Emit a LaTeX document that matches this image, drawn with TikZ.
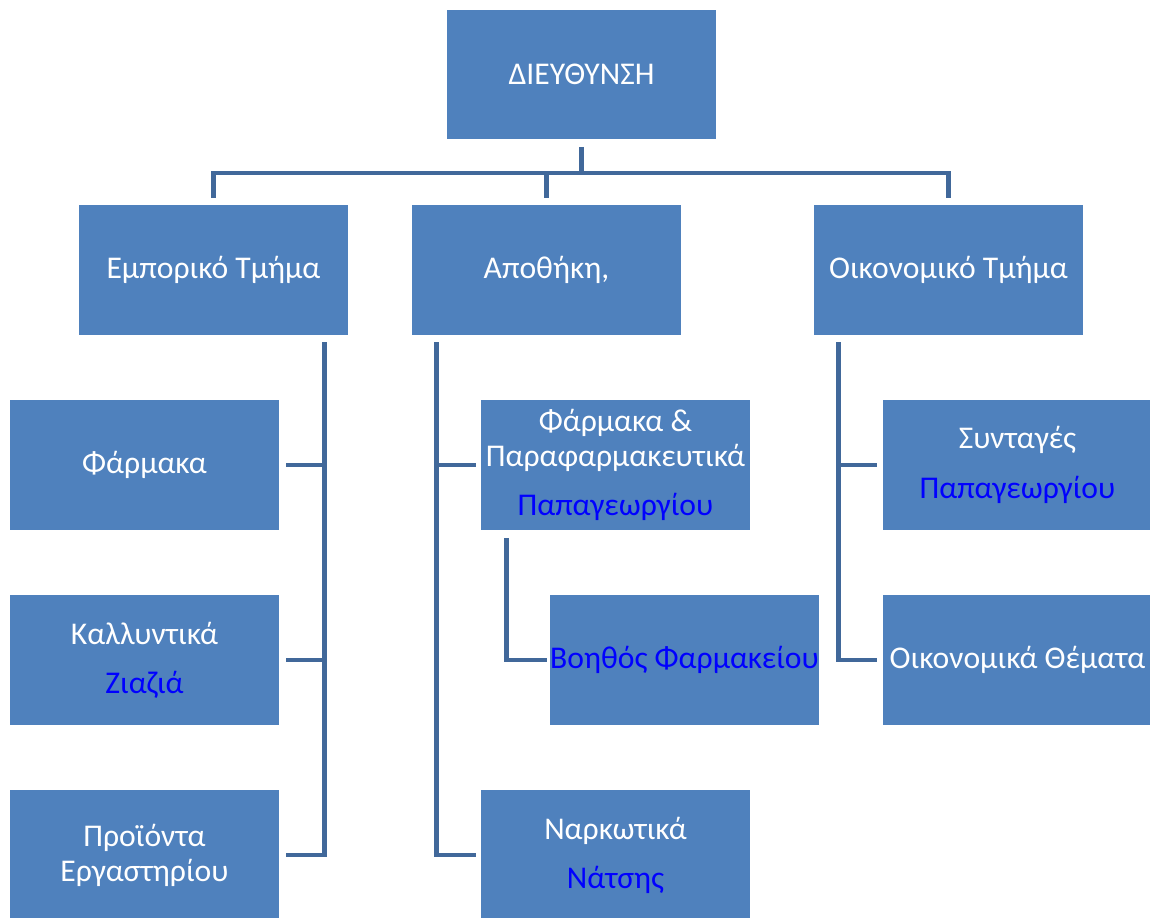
\documentclass[tikz,border=0pt]{standalone}
\usepackage{fontspec}
\setmainfont{Carlito}
\definecolor{boxblue}{HTML}{4F81BD}
\definecolor{lineblue}{HTML}{41689A}
\begin{document}
\begin{tikzpicture}[x=0.02cm, y=-0.02cm,
    unit/.style={fill=boxblue, text=white, minimum width=5.38cm, minimum height=2.6cm,
        inner sep=0pt, align=center, font=\fontsize{18}{20}\selectfont},
    link/.style={draw=lineblue, line width=2.6pt}]
        \useasboundingbox (0,0) rectangle (1150,917);

        %%%%%%%%%%%%%%%%%%%%%%%%%%%%%%%%%%%%%%%%%%%%
        % Head and departments
        %%%%%%%%%%%%%%%%%%%%%%%%%%%%%%%%%%%%%%%%%%%%
        \node [unit] (head) at (581.5,74.5) {ΔΙΕΥΘΥΝΣΗ};

        \node [unit] (sales) at (213.5,270) {Εμπορικό Τμήμα};
        \node [unit] (store) at (546.5,270) {Αποθήκη,};
        \node [unit] (finance) at (948.5,270) {Οικονομικό Τμήμα};

        %%%%%%%%%%%%%%%%%%%%%%%%%%%%%%%%%%%%%%%%%%%%
        % Sections
        %%%%%%%%%%%%%%%%%%%%%%%%%%%%%%%%%%%%%%%%%%%%

        % Sales
        \foreach \l [count=\y] in {Φάρμακα,
                {Καλλυντικά\\[8pt]\textcolor{blue}{Ζιαζιά}},
                {Προϊόντα\\Εργαστηρίου}}
            \node [unit] (sales-\y) at (144.5,270+195*\y) {\l};

        % Store
        \node [unit] (store-1) at (615.5,465)
            {Φάρμακα \&\\Παραφαρμακευτικά\\[8pt]\textcolor{blue}{Παπαγεωργίου}};
        \node [unit] (store-2) at (684.5,660) {\textcolor{blue}{Βοηθός Φαρμακείου}};
        \node [unit] (store-3) at (615.5,855) {Ναρκωτικά\\[8pt]\textcolor{blue}{Νάτσης}};

        % Finance
        \foreach \l [count=\y] in {{Συνταγές\\[8pt]\textcolor{blue}{Παπαγεωργίου}},
                {Οικονομικά Θέματα}}
            \node [unit] (finance-\y) at (1017.5,270+195*\y) {\l};

        %%%%%%%%%%%%%%%%%%%%%%%%%%%%%%%%%%%%%%%%%%%%
        % Connecting
        %%%%%%%%%%%%%%%%%%%%%%%%%%%%%%%%%%%%%%%%%%%%

        % Head to departments
        \coordinate (bus) at ([yshift=-0.66cm]head.south);
        \draw [link, shorten <=0.14cm] (head.south) -- (bus);
        \foreach \n in {sales,store,finance}
            \draw [link, shorten >=0.14cm] (bus) -| (\n.north);

        % Spines
        \coordinate (sales-top) at ([xshift=-0.48cm, yshift=-0.14cm]sales.south east);
        \coordinate (store-top) at ([xshift=0.5cm, yshift=-0.14cm]store.south west);
        \coordinate (finance-top) at ([xshift=0.5cm, yshift=-0.14cm]finance.south west);

        \draw [link, shorten >=0.13cm] (sales-top) |- (sales-3.east);
        \foreach \i in {1,2}
            \draw [link, shorten >=0.13cm] (sales-top |- sales-\i.east) -- (sales-\i.east);

        \draw [link, shorten >=0.1cm] (store-top) |- (store-3.west);
        \draw [link, shorten >=0.1cm] (store-top |- store-1.west) -- (store-1.west);
        \draw [link, shorten >=0.05cm] ([xshift=0.52cm, yshift=-0.16cm]store-1.south west)
            |- (store-2.west);

        \draw [link, shorten >=0.12cm] (finance-top) |- (finance-2.west);
        \draw [link, shorten >=0.12cm] (finance-top |- finance-1.west) -- (finance-1.west);
    \end{tikzpicture}
\end{document}
